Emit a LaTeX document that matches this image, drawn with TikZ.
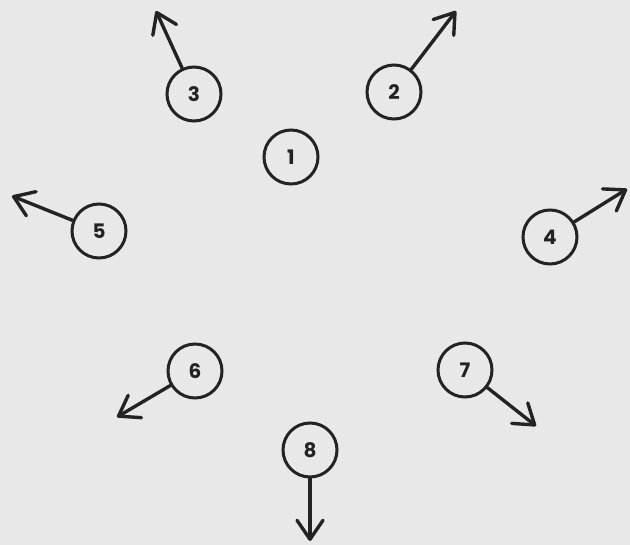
\documentclass[tikz,border=0pt]{standalone}
\usepackage{fontspec}
\setmainfont{Poppins}
\usetikzlibrary{arrows.meta}
\definecolor{bgc}{RGB}{232,232,232}
\definecolor{ink}{RGB}{35,35,35}
\begin{document}
\begin{tikzpicture}[x=1pt,y=-1pt,
  site/.style={draw=ink,circle,line width=3pt,minimum size=54pt,inner sep=0pt,
    text=ink,font=\fontsize{20}{20}\selectfont\bfseries},
  vec/.style={draw=ink,line width=3.4pt,line cap=round,line join=round,
    -{Straight Barb[length=19pt,width=26pt,round]}}]
\fill[bgc] (0,0) rectangle (630,545);
\useasboundingbox (0,0) rectangle (630,545);
\node[site] (n1) at (291,157) {1};
\node[site] (n2) at (394,92) {2};
\node[site] (n3) at (194,94) {3};
\node[site] (n4) at (550,237) {4};
\node[site] (n5) at (99,231) {5};
\node[site] (n6) at (195,371) {6};
\node[site] (n7) at (465,370) {7};
\node[site] (n8) at (310,450) {8};
\coordinate (t2) at (456,11);
\coordinate (t3) at (156,11);
\coordinate (t4) at (627,189);
\coordinate (t5) at (12,196);
\coordinate (t6) at (117,417);
\coordinate (t7) at (536,426);
\coordinate (t8) at (310,541);
\draw[vec] (n2) -- (t2);
\draw[vec] (n3) -- (t3);
\draw[vec] (n4) -- (t4);
\draw[vec] (n5) -- (t5);
\draw[vec] (n6) -- (t6);
\draw[vec] (n7) -- (t7);
\draw[vec] (n8) -- (t8);
\end{tikzpicture}
\end{document}
